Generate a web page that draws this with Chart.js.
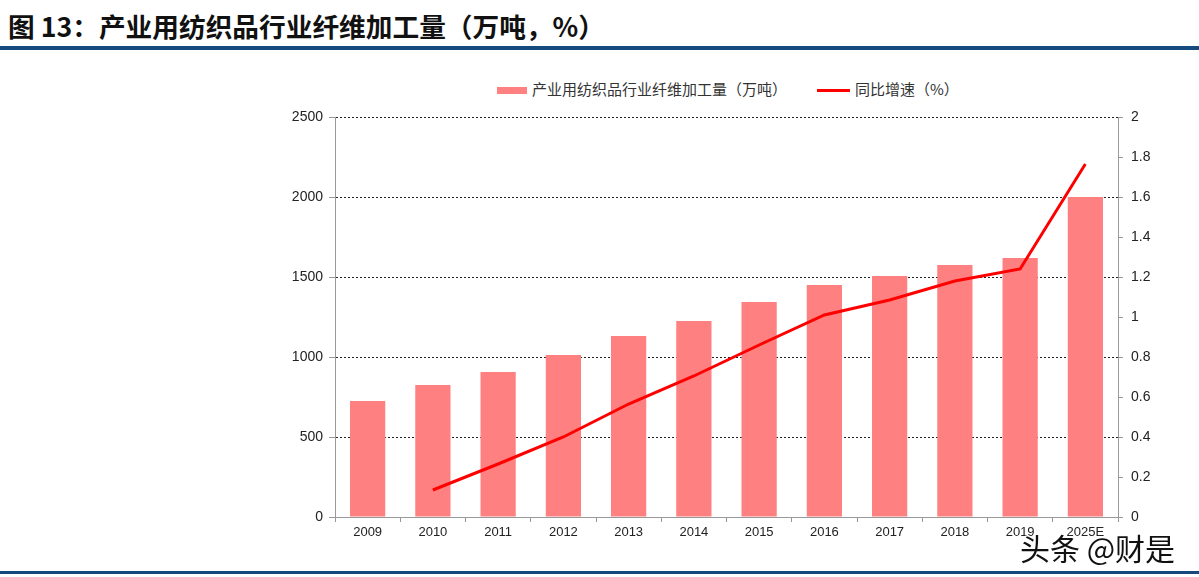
<!DOCTYPE html>
<html>
<head>
<meta charset="utf-8">
<script src="https://cdn.jsdelivr.net/npm/chart.js@4/dist/chart.umd.min.js"></script>
<style>
  body { margin: 0; width: 1199px; height: 577px; background: #fff; position: relative; overflow: hidden; font-family: "Liberation Sans", Arial, sans-serif; }
  #title { position: absolute; left: 8px; top: 6px; font: bold 26.7px "Noto Sans CJK SC", sans-serif; color: #111; white-space: nowrap; }
  .rule { position: absolute; left: 0; width: 1199px; background: #174a7c; }
  #wrap { position: absolute; left: 0; top: 60px; width: 1199px; height: 500px; }
  .leg { position: absolute; top: 79px; font: 15px "Noto Sans CJK SC", sans-serif; color: #333; white-space: nowrap; line-height: 20px; }
  .leg i { display: inline-block; vertical-align: middle; margin-right: 5px; }
  #mark { position: absolute; left: 1020px; top: 525px; font: 30px "Noto Sans CJK SC", sans-serif; color: #111;
          text-shadow: 1px 1px 0 #fff, -1px -1px 0 #fff, 1px -1px 0 #fff, -1px 1px 0 #fff; white-space: nowrap; }
</style>
</head>
<body>
<div id="title">图 13：产业用纺织品行业纤维加工量（万吨，%）</div>
<div class="rule" style="top:46px;height:4px"></div>
<div class="leg" style="left:497px"><i style="width:30px;height:7px;background:#ff8080"></i>产业用纺织品行业纤维加工量（万吨）</div>
<div class="leg" style="left:817px"><i style="width:33px;height:3px;background:#ff0000"></i>同比增速（%）</div>
<div id="wrap"><canvas id="myChart"></canvas></div>
<div class="rule" style="top:571px;height:3px"></div>
<div id="mark">头条 @财是</div>
<script>
const years = ["2009", "2010", "2011", "2012", "2013", "2014", "2015", "2016", "2017", "2018", "2019", "2025E"];
const fiberVolume = [725, 825, 906, 1012, 1131, 1225, 1344, 1450, 1506, 1575, 1619, 2000];
const yoyGrowth = [null, 0.135, 0.265, 0.40, 0.565, 0.705, 0.86, 1.01, 1.085, 1.18, 1.24, 1.765];

const ctx = document.getElementById('myChart');

const myChart = new Chart(ctx, {
    type: 'bar',
    data: {
        labels: years,
        datasets: [{
            label: '产业用纺织品行业纤维加工量（万吨）',
            data: fiberVolume,
            backgroundColor: '#ff8080',
            barPercentage: 0.54,
            categoryPercentage: 1,
            yAxisID: 'y',
            order: 2
        },
        {
            type: 'line',
            label: '同比增速（%）',
            data: yoyGrowth,
            borderColor: '#ff0000',
            borderWidth: 3,
            pointRadius: 0,
            tension: 0,
            fill: false,
            yAxisID: 'y1',
            order: 1
        }]
    },
    options: {
        responsive: true,
        maintainAspectRatio: false,
        animation: false,
        layout: { padding: { left: 285, right: 31, top: 57, bottom: 13 } },
        plugins: {
            legend: { display: false },
            tooltip: { enabled: false }
        },
        scales: {
            x: {
                grid: { drawOnChartArea: false, tickLength: 5, color: '#999' },
                border: { color: '#999', width: 1 },
                ticks: { color: '#222', font: { size: 13, family: 'Liberation Sans' }, padding: 3 },
                afterFit: function (s) { s.height = 30; }
            },
            y: {
                position: 'left',
                min: 0,
                max: 2500,
                ticks: {
                    stepSize: 500, color: '#222', font: { size: 14, family: 'Liberation Sans' }, padding: 6,
                    callback: function (v) { return String(v); }
                },
                grid: { color: '#222', tickColor: '#999', tickLength: 6, tickBorderDash: [], lineWidth: 1 },
                border: { color: '#999', dash: [2, 2] },
                afterFit: function (s) { s.width = 50; }
            },
            y1: {
                position: 'right',
                min: 0,
                max: 2,
                ticks: {
                    stepSize: 0.2, color: '#222', font: { size: 14, family: 'Liberation Sans' }, padding: 8,
                    callback: function (v) { return String(Math.round(v * 10) / 10); }
                },
                grid: { drawOnChartArea: false, tickColor: '#999', tickLength: 5 },
                border: { color: '#999' },
                afterFit: function (s) { s.width = 50; }
            }
        }
    }
});
</script>
</body>
</html>
